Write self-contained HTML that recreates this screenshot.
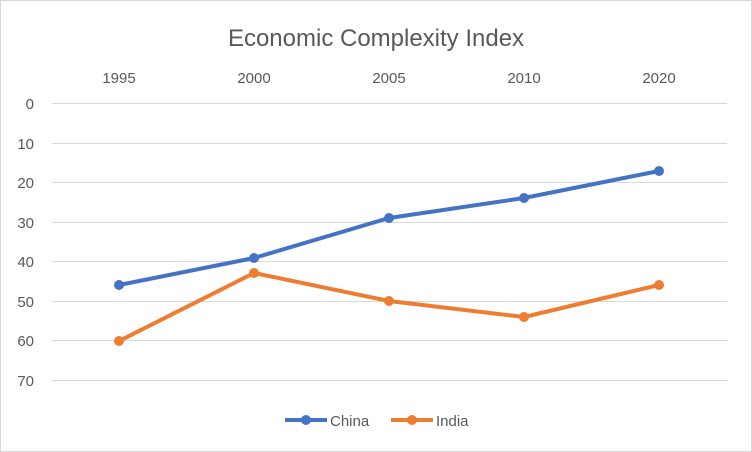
<!DOCTYPE html>
<html><head><meta charset="utf-8"><style>
html,body{margin:0;padding:0;background:#fff;}
svg{display:block;}
text{font-family:"Liberation Sans",sans-serif;}
</style></head><body>
<svg width="752" height="452" viewBox="0 0 752 452">
<rect x="0.5" y="0.5" width="751" height="451" fill="#fff" stroke="#d9d9d9"/>
<text x="376" y="46" text-anchor="middle" font-size="24" fill="#595959">Economic Complexity Index</text>
<g stroke="#d9d9d9" stroke-width="1">
<line x1="52" x2="727" y1="103.5" y2="103.5"/>
<line x1="52" x2="727" y1="143.5" y2="143.5"/>
<line x1="52" x2="727" y1="182.5" y2="182.5"/>
<line x1="52" x2="727" y1="222.5" y2="222.5"/>
<line x1="52" x2="727" y1="261.5" y2="261.5"/>
<line x1="52" x2="727" y1="301.5" y2="301.5"/>
<line x1="52" x2="727" y1="340.5" y2="340.5"/>
<line x1="52" x2="727" y1="380.5" y2="380.5"/>
</g>
<g font-size="15" fill="#595959" text-anchor="end">
<text x="34" y="109">0</text>
<text x="34" y="149">10</text>
<text x="34" y="188">20</text>
<text x="34" y="228">30</text>
<text x="34" y="267">40</text>
<text x="34" y="307">50</text>
<text x="34" y="346">60</text>
<text x="34" y="386">70</text>
</g>
<g font-size="15" fill="#595959" text-anchor="middle">
<text x="119" y="83">1995</text>
<text x="254" y="83">2000</text>
<text x="389" y="83">2005</text>
<text x="524" y="83">2010</text>
<text x="659" y="83">2020</text>
</g>
<polyline points="119,285 254,258 389,218 524,198 659,171" fill="none" stroke="#4472c4" stroke-width="4" stroke-linejoin="round" stroke-linecap="round"/>
<polyline points="119,341 254,273 389,301 524,317 659,285" fill="none" stroke="#ed7d31" stroke-width="4" stroke-linejoin="round" stroke-linecap="round"/>
<g fill="#4472c4">
<circle cx="119" cy="285" r="5"/><circle cx="254" cy="258" r="5"/><circle cx="389" cy="218" r="5"/><circle cx="524" cy="198" r="5"/><circle cx="659" cy="171" r="5"/>
</g>
<g fill="#ed7d31">
<circle cx="119" cy="341" r="5"/><circle cx="254" cy="273" r="5"/><circle cx="389" cy="301" r="5"/><circle cx="524" cy="317" r="5"/><circle cx="659" cy="285" r="5"/>
</g>
<line x1="285" x2="327" y1="420" y2="420" stroke="#4472c4" stroke-width="4"/>
<circle cx="306" cy="420" r="5" fill="#4472c4"/>
<text x="330" y="426" font-size="15" fill="#595959">China</text>
<line x1="391" x2="433" y1="420" y2="420" stroke="#ed7d31" stroke-width="4"/>
<circle cx="412" cy="420" r="5" fill="#ed7d31"/>
<text x="436" y="426" font-size="15" fill="#595959">India</text>
</svg>
</body></html>
